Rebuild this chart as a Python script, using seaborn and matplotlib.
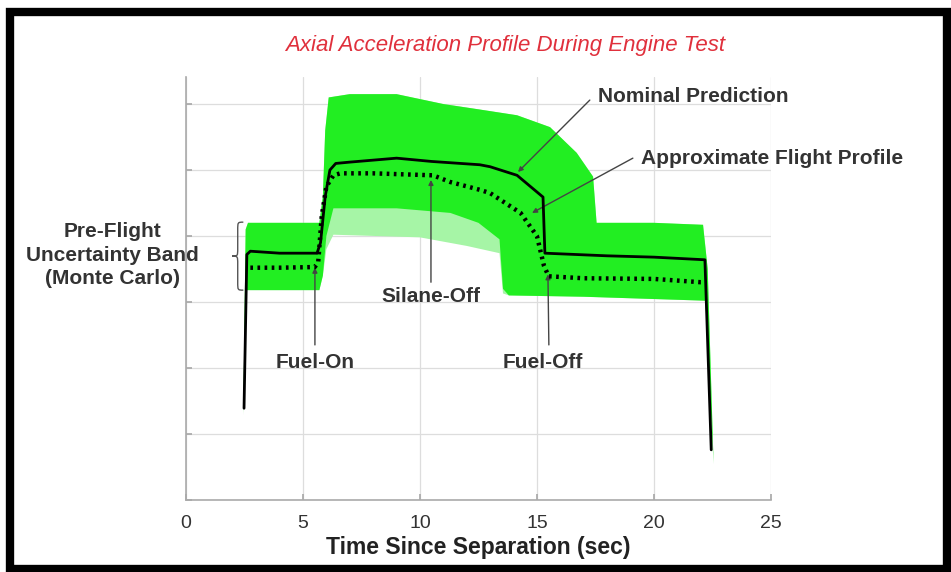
import numpy as np
import seaborn as sns
import matplotlib.pyplot as plt
from matplotlib.patches import Rectangle, PathPatch
from matplotlib.path import Path

sns.set_theme(style="whitegrid")
plt.rcParams['font.family'] = ['Liberation Sans', 'DejaVu Sans']

# nominal prediction (solid)
t_nom = [2.48, 2.6, 2.75, 4.0, 5.6, 5.75, 5.95, 6.15, 6.4, 7.0, 9.0, 10.5, 12.56, 13.0,
         14.15, 15.26, 15.34, 18.0, 20.0, 22.18, 22.45]
a_nom = [1.39, 3.72, 3.77, 3.74, 3.74, 3.9, 4.6, 5.0, 5.1, 5.12, 5.18, 5.13, 5.08, 5.05,
         4.92, 4.59, 3.74, 3.7, 3.68, 3.64, 0.76]

# approximate flight profile (dotted)
t_flt = [2.75, 4.0, 5.5, 5.65, 5.8, 6.0, 6.3, 6.6, 8.0, 10.56, 11.28, 12.56, 13.0, 14.3,
         15.0, 15.3, 15.5, 17.0, 20.0, 22.0, 22.2]
a_flt = [3.52, 3.52, 3.53, 3.6, 4.3, 4.75, 4.92, 4.95, 4.95, 4.92, 4.82, 4.70, 4.65, 4.35,
         4.0, 3.55, 3.39, 3.36, 3.35, 3.30, 3.30]

# Monte Carlo band envelopes
t_up = [2.45, 2.55, 2.65, 5.7, 5.85, 5.95, 6.1, 7.0, 9.0, 11.0, 12.5, 14.15, 15.56, 16.7,
        17.4, 17.55, 20.0, 22.1, 22.3, 22.55]
a_up = [1.3, 4.1, 4.2, 4.2, 4.6, 5.6, 6.1, 6.15, 6.15, 6.0, 5.92, 5.83, 5.65, 5.26,
        4.9, 4.2, 4.2, 4.17, 3.5, 0.55]

t_lo = [2.45, 2.6, 5.7, 5.85, 6.0, 6.3, 9.0, 11.3, 12.5, 13.4, 13.55, 13.8, 17.0, 22.2, 22.55]
a_lo = [1.3, 3.18, 3.18, 3.4, 4.0, 4.42, 4.42, 4.35, 4.2, 3.95, 3.2, 3.1, 3.08, 3.02, 0.55]

t_lo_sparse = [2.45, 2.6, 5.7, 5.85, 6.0, 6.3, 10.0, 12.0, 13.4, 13.55, 13.8, 17.0, 22.2, 22.55]
a_lo_sparse = [1.3, 3.18, 3.18, 3.4, 3.8, 4.02, 3.98, 3.85, 3.74, 3.13, 3.1, 3.08, 3.02, 0.55]

fig = plt.figure(figsize=(9.51, 5.72), dpi=100)
ax = fig.add_axes([0.1956, 0.1259, 0.615, 0.7395])

green = '#22ee22'
ax.fill(np.r_[t_up, t_lo_sparse[::-1]], np.r_[a_up, a_lo_sparse[::-1]],
        color='#a6f5a6', lw=0, zorder=1)
ax.fill(np.r_[t_up, t_lo[::-1]], np.r_[a_up, a_lo[::-1]], color=green, lw=0, zorder=2)

sns.lineplot(x=t_nom, y=a_nom, ax=ax, color='black', lw=2, sort=False, zorder=4)
sns.lineplot(x=t_flt, y=a_flt, ax=ax, color='black', lw=3.2, sort=False,
             linestyle=(0, (0.6, 1.0)), zorder=5)

ax.set_xlim(0, 25)
ax.set_ylim(0, 6.41)
ax.set_xticks([0, 5, 10, 15, 20, 25])
ax.set_yticks([0, 1, 2, 3, 4, 5, 6])
ax.set_yticklabels([])
ax.grid(True, color='#dddddd', lw=0.9)
for s in ['top', 'right']:
    ax.spines[s].set_visible(False)
for s in ['left', 'bottom']:
    ax.spines[s].set_color('#aaaaaa')
    ax.spines[s].set_linewidth(1.2)
ax.tick_params(direction='in', length=4, color='#aaaaaa', left=True, bottom=True,
               labelsize=14, labelcolor='#333333', pad=11)
ax.set_xlabel('Time Since Separation (sec)', fontsize=16.5, fontweight='bold',
              color='#222222', labelpad=3)

fig.text(0.531, 0.921, 'Axial Acceleration Profile During Engine Test', color='#e0303c',
         style='italic', fontsize=16, ha='center', va='center')

lab = dict(fontsize=15, fontweight='bold', color='#333333')
arr = dict(arrowstyle='-|>', color='#444444', lw=1, mutation_scale=7, shrinkA=0, shrinkB=0)

ax.text(17.61, 6.11, 'Nominal Prediction', ha='left', va='center', **lab)
ax.annotate('', xy=(14.19, 4.97), xytext=(17.26, 6.06), arrowprops=arr)
ax.text(19.44, 5.18, 'Approximate Flight Profile', ha='left', va='center', **lab)
ax.annotate('', xy=(14.79, 4.35), xytext=(19.10, 5.18), arrowprops=arr)
ax.text(10.47, 3.08, 'Silane-Off', ha='center', va='center', **lab)
ax.annotate('', xy=(10.47, 4.85), xytext=(10.47, 3.30), arrowprops=arr)
ax.text(5.51, 2.09, 'Fuel-On', ha='center', va='center', **lab)
ax.annotate('', xy=(5.51, 3.52), xytext=(5.51, 2.35), arrowprops=arr)
ax.text(15.26, 2.09, 'Fuel-Off', ha='center', va='center', **lab)
ax.annotate('', xy=(15.47, 3.42), xytext=(15.51, 2.35), arrowprops=arr)
ax.text(-3.16, 3.71, 'Pre-Flight\nUncertainty Band\n(Monte Carlo)', ha='center',
        va='center', linespacing=1.3, clip_on=False, **lab)

# curly brace next to the band label
xt, xr, yt, yb = 1.97, 2.45, 4.21, 3.18
xm, ym, d = (xt + xr) / 2, (yt + yb) / 2, 0.12
verts = [(xr, yt), (xm, yt), (xm, yt), (xm, yt - d),
         (xm, ym + d), (xm, ym), (xm, ym), (xt, ym),
         (xm, ym), (xm, ym), (xm, ym - d),
         (xm, yb + d), (xm, yb), (xm, yb), (xr, yb)]
codes = [Path.MOVETO, Path.CURVE4, Path.CURVE4, Path.CURVE4,
         Path.LINETO, Path.CURVE4, Path.CURVE4, Path.CURVE4,
         Path.CURVE4, Path.CURVE4, Path.CURVE4,
         Path.LINETO, Path.CURVE4, Path.CURVE4, Path.CURVE4]
ax.add_patch(PathPatch(Path(verts, codes), fc='none', ec='#555555', lw=1, clip_on=False))

fig.patches.append(Rectangle((0.010, 0.006), 0.986, 0.973, transform=fig.transFigure,
                             fill=False, ec='black', lw=6))

fig.savefig('out.png', dpi=100)
